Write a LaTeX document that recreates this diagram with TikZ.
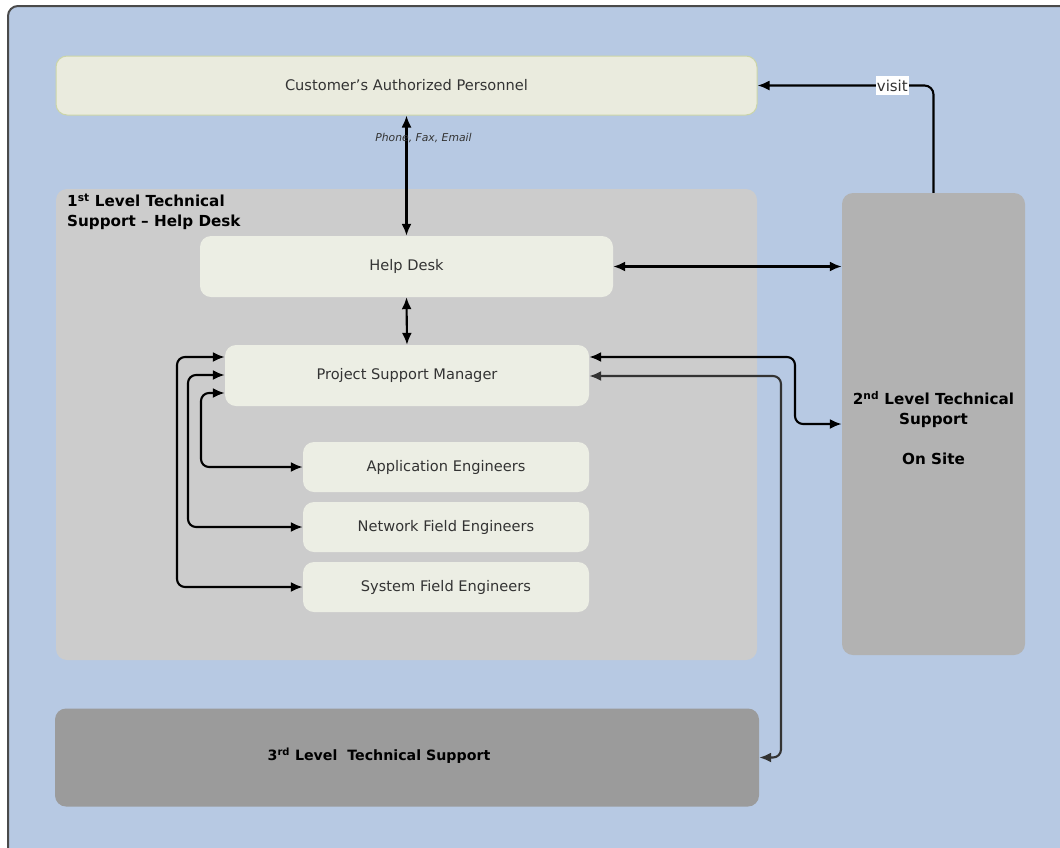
\documentclass[tikz,border=0pt]{standalone}
\usepackage{fontspec}
\setmainfont{DejaVu Sans}
\usetikzlibrary{arrows.meta}
\definecolor{bgblue}{HTML}{B7C9E3}
\definecolor{custfill}{HTML}{EAEBDE}
\definecolor{custline}{HTML}{CBD5A8}
\definecolor{lightbox}{HTML}{ECEEE4}
\definecolor{lvlone}{HTML}{CCCCCC}
\definecolor{lvltwo}{HTML}{B2B2B2}
\definecolor{lvlthree}{HTML}{9B9B9B}
\definecolor{txtgray}{HTML}{333333}
\definecolor{framecol}{HTML}{4A4A4A}
\tikzset{
  lightnode/.style={rectangle, rounded corners=11pt, fill=lightbox, draw=none, text=txtgray,
    font=\fontsize{14.6}{17}\selectfont, inner sep=0pt},
  groupnode/.style={rectangle, rounded corners=11pt, draw=none, inner sep=0pt},
  boldtxt/.style={font=\bfseries\fontsize{15.2}{20}\selectfont, text=black},
  dbl/.style={{Latex[length=12pt,width=10pt]}-{Latex[length=12pt,width=10pt]}, line width=2.1pt, black},
  sgl/.style={-{Latex[length=12pt,width=10pt]}, line width=2.1pt, black},
}
\begin{document}
\begin{tikzpicture}[x=1pt,y=-1pt]
\useasboundingbox (0,0) rectangle (1060,847);
\fill[white] (0,0) rectangle (1060,847);
\draw[draw=framecol, line width=2pt, fill=bgblue, rounded corners=10pt] (8,6) rectangle (1085,875);

% groups
\node[groupnode, fill=lvlone, minimum width=701pt, minimum height=471pt] (lvl1) at (406.5,424.5) {};
\node[boldtxt, anchor=north west, align=left, inner sep=0pt] (lvl1t) at (67,194)
  {1\textsuperscript{st} Level Technical\\Support -- Help Desk};
\node[groupnode, fill=lvltwo, minimum width=183pt, minimum height=462pt] (lvl2) at (933.5,424) {};
\node[boldtxt, align=center, inner sep=0pt] (lvl2t) at (933.5,428)
  {2\textsuperscript{nd} Level Technical\\Support\\[20pt]On Site};
\node[groupnode, fill=lvlthree, minimum width=704pt, minimum height=98pt] (lvl3) at (407,757.5) {};
\node[boldtxt, font=\bfseries\fontsize{14.2}{18}\selectfont, inner sep=0pt] (lvl3t) at (379,756)
  {3\textsuperscript{rd} Level\ \ Technical Support};

% boxes
\node[lightnode, fill=custfill, draw=custline, line width=1pt, minimum width=701pt, minimum height=59pt] (cust) at (406.5,85.5)
  {Customer's Authorized Personnel};
\node[lightnode, minimum width=413pt, minimum height=61pt] (help) at (406.5,266.5) {Help Desk};
\node[lightnode, minimum width=364pt, minimum height=61pt] (psm) at (407,375.5) {Project Support Manager};
\node[lightnode, minimum width=286pt, minimum height=50pt] (app) at (446,467) {Application Engineers};
\node[lightnode, minimum width=286pt, minimum height=50pt] (net) at (446,527) {Network Field Engineers};
\node[lightnode, minimum width=286pt, minimum height=50pt] (sys) at (446,587) {System Field Engineers};

% connectors
\draw[dbl] (cust.south) -- node[pos=0.19, font=\itshape\fontsize{10.8}{12}\selectfont, text=txtgray, xshift=17pt] {Phone, Fax, Email} (help.north);
\draw[dbl] (help.south) -- (psm.north);
\draw[dbl] (help.east) -- (lvl2.west |- help.east);
\draw[sgl, rounded corners=9pt] (lvl2.north) |- node[pos=0.617, sharp corners, fill=white, inner xsep=1pt, inner ysep=4pt, text=txtgray, font=\fontsize{15}{16}\selectfont] {visit} (cust.east);

\coordinate (pr1) at (psm.east |- 0,357);
\coordinate (pr2) at (psm.east |- 0,376);
\coordinate (c2) at (795,357);
\coordinate (c3) at (781,376);
\draw[dbl, rounded corners=8pt] (pr1) -- (c2) |- (lvl2.west);
\draw[dbl, draw=txtgray, rounded corners=8pt] (pr2) -- (c3) |- (lvl3.east);

\coordinate (pl1) at (psm.west |- 0,393);
\coordinate (pl2) at (psm.west |- 0,375);
\coordinate (pl3) at (psm.west |- 0,357);
\coordinate (l1) at (201,393);
\coordinate (l2) at (188,375);
\coordinate (l3) at (177,357);
\draw[dbl, rounded corners=8pt] (pl1) -- (l1) |- (app.west);
\draw[dbl, rounded corners=8pt] (pl2) -- (l2) |- (net.west);
\draw[dbl, rounded corners=8pt] (pl3) -- (l3) |- (sys.west);
\end{tikzpicture}
\end{document}
